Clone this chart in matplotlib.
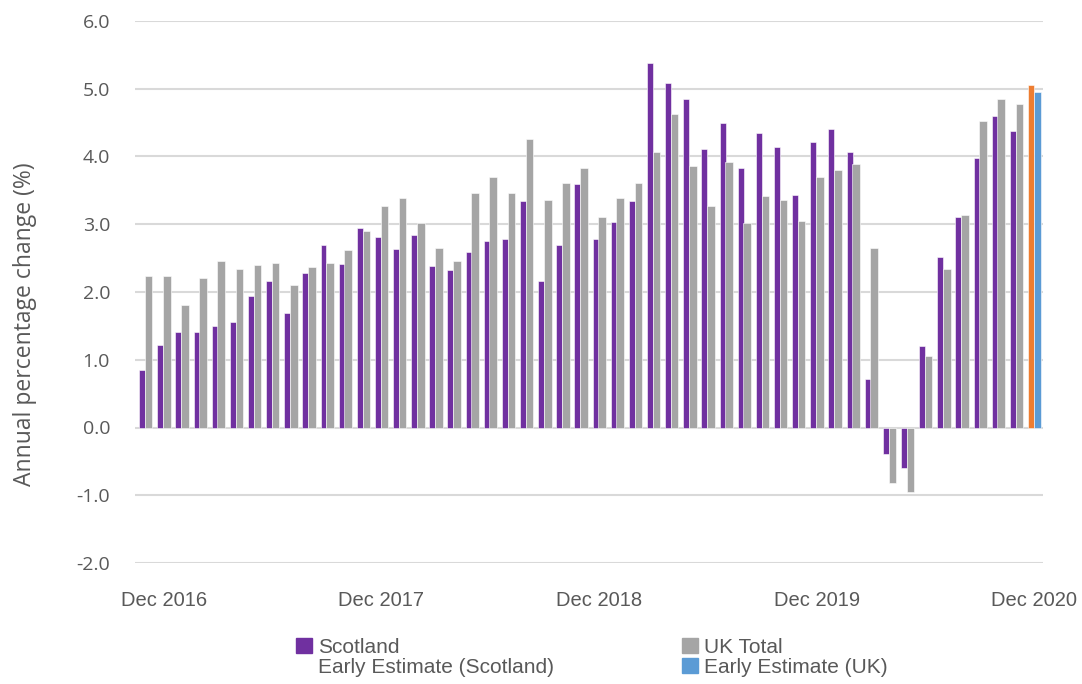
import matplotlib
matplotlib.use("Agg")
import matplotlib.pyplot as plt
from matplotlib.patches import Patch

# Nov 2016 .. Nov 2020, then the Dec 2020 early estimate
months = [
    "Nov 2016", "Dec 2016", "Jan 2017", "Feb 2017", "Mar 2017", "Apr 2017", "May 2017",
    "Jun 2017", "Jul 2017", "Aug 2017", "Sep 2017", "Oct 2017", "Nov 2017", "Dec 2017",
    "Jan 2018", "Feb 2018", "Mar 2018", "Apr 2018", "May 2018", "Jun 2018", "Jul 2018",
    "Aug 2018", "Sep 2018", "Oct 2018", "Nov 2018", "Dec 2018", "Jan 2019", "Feb 2019",
    "Mar 2019", "Apr 2019", "May 2019", "Jun 2019", "Jul 2019", "Aug 2019", "Sep 2019",
    "Oct 2019", "Nov 2019", "Dec 2019", "Jan 2020", "Feb 2020", "Mar 2020", "Apr 2020",
    "May 2020", "Jun 2020", "Jul 2020", "Aug 2020", "Sep 2020", "Oct 2020", "Nov 2020",
    "Dec 2020",
]

scotland = [
    0.85, 1.22, 1.41, 1.41, 1.50, 1.56, 1.94, 2.16, 1.69, 2.28,
    2.69, 2.41, 2.94, 2.81, 2.63, 2.84, 2.38, 2.32, 2.59, 2.75,
    2.78, 3.34, 2.16, 2.69, 3.59, 2.78, 3.03, 3.34, 5.38, 5.09,
    4.85, 4.11, 4.50, 3.83, 4.35, 4.14, 3.43, 4.22, 4.41, 4.07,
    0.72, -0.39, -0.60, 1.21, 2.52, 3.11, 3.98, 4.60, 4.38,
]
uk_total = [
    2.24, 2.24, 1.81, 2.21, 2.46, 2.34, 2.40, 2.43, 2.11, 2.37,
    2.43, 2.62, 2.90, 3.27, 3.39, 3.02, 2.65, 2.46, 3.46, 3.70,
    3.46, 4.26, 3.36, 3.61, 3.83, 3.11, 3.39, 3.61, 4.07, 4.63,
    3.86, 3.27, 3.92, 3.02, 3.42, 3.36, 3.05, 3.70, 3.80, 3.89,
    2.65, -0.82, -0.95, 1.06, 2.34, 3.14, 4.53, 4.85, 4.78,
]
early_scotland = 5.05
early_uk = 4.95

tick_months = ["Dec 2016", "Dec 2017", "Dec 2018", "Dec 2019", "Dec 2020"]

PURPLE = "#7030A0"
GREY = "#A5A5A5"
ORANGE = "#ED7D31"
BLUE = "#5B9BD5"
TEXT = "#595959"
GRID = "#D9D9D9"

y_font = ["Open Sans", "DejaVu Sans"]
x_font = ["Liberation Sans Narrow", "Liberation Sans", "DejaVu Sans"]

fig = plt.figure(figsize=(10.82, 6.84), dpi=100)
ax = fig.add_axes([0.1248, 0.1769, 0.8389, 0.7924])

x = list(range(len(scotland)))
ax.bar([i - 0.19 for i in x], scotland, width=0.33, color=PURPLE,
       edgecolor="white", linewidth=0.4, zorder=2)
ax.bar([i + 0.17 for i in x], uk_total, width=0.42, color=GREY,
       edgecolor="white", linewidth=0.4, zorder=3)

last = len(months) - 1
ax.bar(last - 0.19, early_scotland, width=0.33, color=ORANGE,
       edgecolor="white", linewidth=0.4, zorder=2)
ax.bar(last + 0.17, early_uk, width=0.42, color=BLUE,
       edgecolor="white", linewidth=0.4, zorder=3)

ax.set_xlim(-0.58, last + 0.46)
ax.set_ylim(-2, 6)
ax.set_yticks(range(-2, 7))
ax.set_yticklabels([f"{v:.1f}" for v in range(-2, 7)], family=y_font,
                   fontsize=14, color=TEXT)
ax.yaxis.grid(True, color=GRID, linewidth=1.5, zorder=0)
ax.set_axisbelow(True)

ax.set_xticks([months.index(m) for m in tick_months])
ax.set_xticklabels(tick_months, family=x_font, fontsize=14.5, color=TEXT)
ax.tick_params(axis="both", length=0)
ax.tick_params(axis="y", pad=18)
ax.tick_params(axis="x", pad=20)
for s in ax.spines.values():
    s.set_visible(False)

ax.set_ylabel("Annual percentage change (%)", family=y_font, fontsize=16.5,
              color=TEXT)
ax.yaxis.set_label_coords(-0.108, 0.44)

leg_kw = dict(loc="upper left", frameon=False, ncol=1, handlelength=0.75,
              handleheight=0.75, handletextpad=0.3, labelspacing=0.05,
              prop={"family": x_font, "size": 15}, labelcolor=TEXT,
              borderpad=0, borderaxespad=0)
fig.legend(handles=[Patch(color=PURPLE, label="Scotland"),
                    Patch(color="none", label="Early Estimate (Scotland)")],
           bbox_to_anchor=(296 / 1082, 1 - 638 / 684), **leg_kw)
fig.legend(handles=[Patch(color=GREY, label="UK Total"),
                    Patch(color=BLUE, label="Early Estimate (UK)")],
           bbox_to_anchor=(682 / 1082, 1 - 638 / 684), **leg_kw)

fig.savefig("out.png", dpi=100)
